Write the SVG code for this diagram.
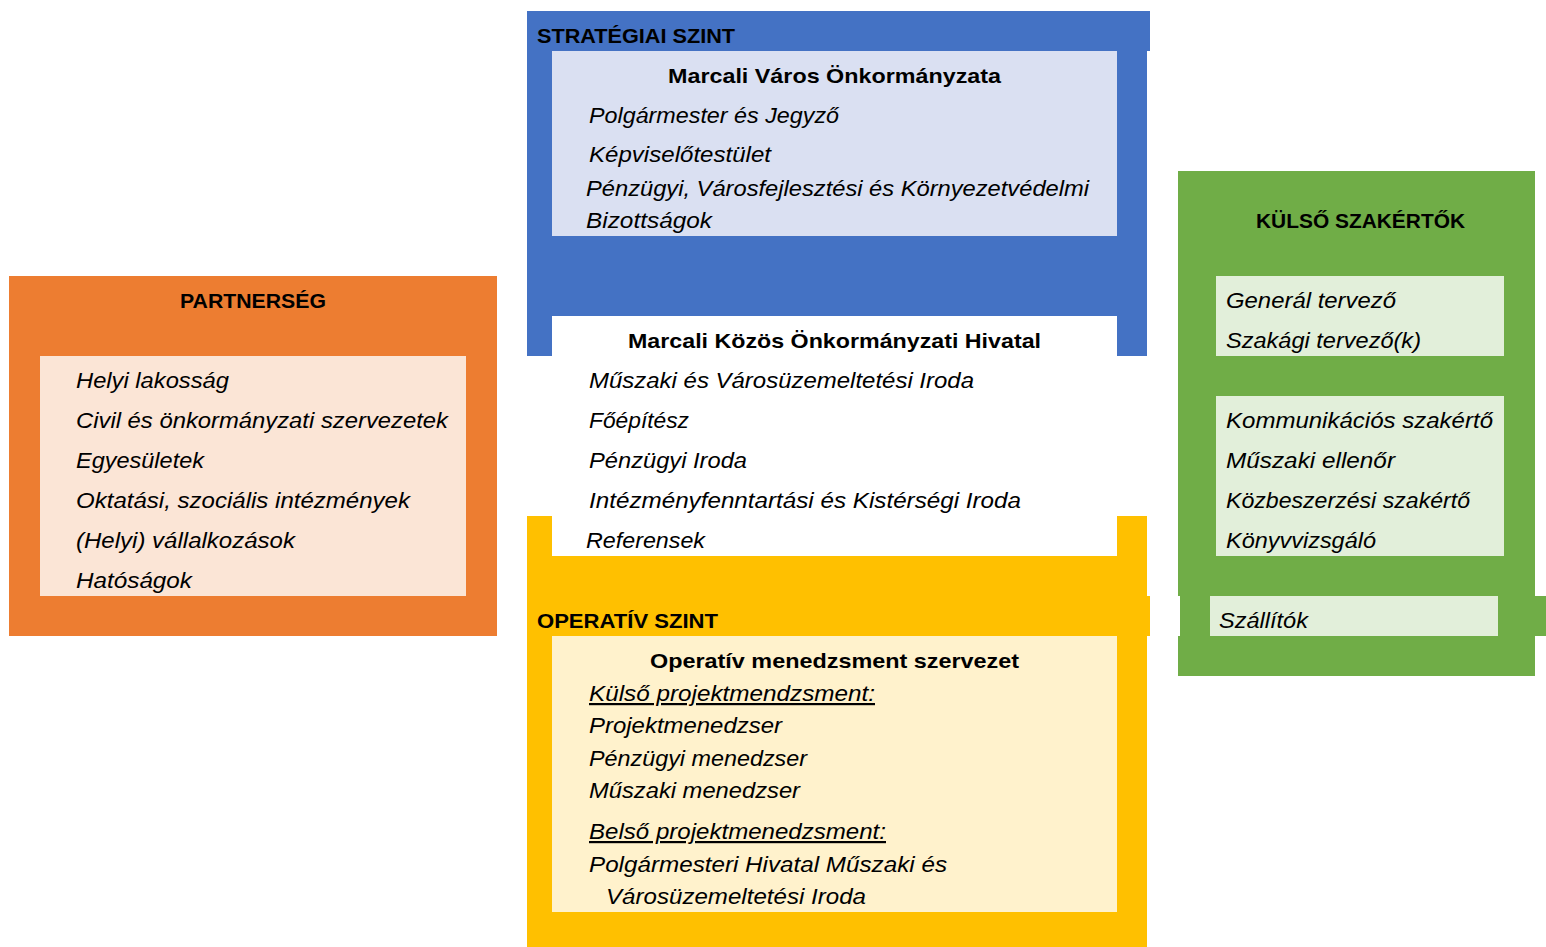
<svg xmlns="http://www.w3.org/2000/svg" width="1546" height="947" viewBox="0 0 1546 947">
<style>
text{font-family:"Liberation Sans",Arial,sans-serif;font-size:22px;fill:#000}
.b{font-weight:bold;font-size:21px}
.i{font-style:italic}
.u{text-decoration:underline}
</style>
<rect width="1546" height="947" fill="#fff"/>
<g id="strategiai">
<rect x="527" y="11" width="620" height="345" fill="#4472C4"/>
<rect x="1147" y="11" width="3" height="40" fill="#4472C4"/>
</g>
<g id="operativ">
<rect x="527" y="516" width="620" height="431" fill="#FFC000"/>
<rect x="1147" y="596" width="3" height="40" fill="#FFC000"/>
</g>
<g id="hivatal">
<rect x="552" y="316" width="565" height="240" fill="#fff"/>
<text class="b" x="628" y="348" textLength="413" lengthAdjust="spacingAndGlyphs">Marcali Közös Önkormányzati Hivatal</text>
<text class="i" x="589" y="388" textLength="385" lengthAdjust="spacingAndGlyphs">Műszaki és Városüzemeltetési Iroda</text>
<text class="i" x="589" y="428" textLength="100" lengthAdjust="spacingAndGlyphs">Főépítész</text>
<text class="i" x="589" y="468" textLength="158" lengthAdjust="spacingAndGlyphs">Pénzügyi Iroda</text>
<text class="i" x="589" y="508" textLength="432" lengthAdjust="spacingAndGlyphs">Intézményfenntartási és Kistérségi Iroda</text>
<text class="i" x="586" y="548" textLength="119" lengthAdjust="spacingAndGlyphs">Referensek</text>
</g>
<g id="onkormanyzat">
<text class="b" x="537" y="43" textLength="198" lengthAdjust="spacingAndGlyphs">STRATÉGIAI SZINT</text>
<rect x="552" y="51" width="565" height="185" fill="#DAE0F2"/>
<text class="b" x="668" y="83" textLength="333" lengthAdjust="spacingAndGlyphs">Marcali Város Önkormányzata</text>
<text class="i" x="589" y="123" textLength="250" lengthAdjust="spacingAndGlyphs">Polgármester és Jegyző</text>
<text class="i" x="589" y="162" textLength="182" lengthAdjust="spacingAndGlyphs">Képviselőtestület</text>
<text class="i" x="586" y="196" textLength="503" lengthAdjust="spacingAndGlyphs">Pénzügyi, Városfejlesztési és Környezetvédelmi</text>
<text class="i" x="586" y="228" textLength="126" lengthAdjust="spacingAndGlyphs">Bizottságok</text>
</g>
<g id="menedzsment">
<text class="b" x="537" y="628" textLength="181" lengthAdjust="spacingAndGlyphs">OPERATÍV SZINT</text>
<rect x="552" y="636" width="565" height="276" fill="#FFF2CC"/>
<text class="b" x="650" y="668" textLength="369" lengthAdjust="spacingAndGlyphs">Operatív menedzsment szervezet</text>
<text class="i u" x="589" y="701" textLength="286" lengthAdjust="spacingAndGlyphs">Külső projektmendzsment:</text>
<text class="i" x="589" y="733" textLength="193" lengthAdjust="spacingAndGlyphs">Projektmenedzser</text>
<text class="i" x="589" y="766" textLength="218" lengthAdjust="spacingAndGlyphs">Pénzügyi menedzser</text>
<text class="i" x="589" y="798" textLength="211" lengthAdjust="spacingAndGlyphs">Műszaki menedzser</text>
<text class="i u" x="589" y="839" textLength="297" lengthAdjust="spacingAndGlyphs">Belső projektmenedzsment:</text>
<text class="i" x="589" y="872" textLength="358" lengthAdjust="spacingAndGlyphs">Polgármesteri Hivatal Műszaki és</text>
<text class="i" x="606" y="904" textLength="260" lengthAdjust="spacingAndGlyphs">Városüzemeltetési Iroda</text>
</g>
<g id="partnerseg">
<rect x="9" y="276" width="488" height="360" fill="#ED7D31"/>
<text class="b" x="180" y="308" textLength="146" lengthAdjust="spacingAndGlyphs">PARTNERSÉG</text>
<rect x="40" y="356" width="426" height="240" fill="#FBE5D6"/>
<text class="i" x="76" y="388" textLength="153" lengthAdjust="spacingAndGlyphs">Helyi lakosság</text>
<text class="i" x="76" y="428" textLength="372" lengthAdjust="spacingAndGlyphs">Civil és önkormányzati szervezetek</text>
<text class="i" x="76" y="468" textLength="128" lengthAdjust="spacingAndGlyphs">Egyesületek</text>
<text class="i" x="76" y="508" textLength="334" lengthAdjust="spacingAndGlyphs">Oktatási, szociális intézmények</text>
<text class="i" x="76" y="548" textLength="219" lengthAdjust="spacingAndGlyphs">(Helyi) vállalkozások</text>
<text class="i" x="76" y="588" textLength="116" lengthAdjust="spacingAndGlyphs">Hatóságok</text>
</g>
<g id="kulso-szakertok">
<rect x="1178" y="171" width="357" height="425" fill="#70AD47"/>
<rect x="1178" y="636" width="357" height="40" fill="#70AD47"/>
<rect x="1180" y="596" width="366" height="40" fill="#70AD47"/>
<text class="b" x="1256" y="228" textLength="209" lengthAdjust="spacingAndGlyphs">KÜLSŐ SZAKÉRTŐK</text>
<rect x="1216" y="276" width="288" height="80" fill="#E2EFDA"/>
<text class="i" x="1226" y="308" textLength="170" lengthAdjust="spacingAndGlyphs">Generál tervező</text>
<text class="i" x="1226" y="348" textLength="195" lengthAdjust="spacingAndGlyphs">Szakági tervező(k)</text>
<rect x="1216" y="396" width="288" height="160" fill="#E2EFDA"/>
<text class="i" x="1226" y="428" textLength="267" lengthAdjust="spacingAndGlyphs">Kommunikációs szakértő</text>
<text class="i" x="1226" y="468" textLength="169" lengthAdjust="spacingAndGlyphs">Műszaki ellenőr</text>
<text class="i" x="1226" y="508" textLength="244" lengthAdjust="spacingAndGlyphs">Közbeszerzési szakértő</text>
<text class="i" x="1226" y="548" textLength="150" lengthAdjust="spacingAndGlyphs">Könyvvizsgáló</text>
<rect x="1210" y="596" width="288" height="40" fill="#E2EFDA"/>
<text class="i" x="1219" y="628" textLength="89" lengthAdjust="spacingAndGlyphs">Szállítók</text>
</g>
<g id="connectors"/>
</svg>
